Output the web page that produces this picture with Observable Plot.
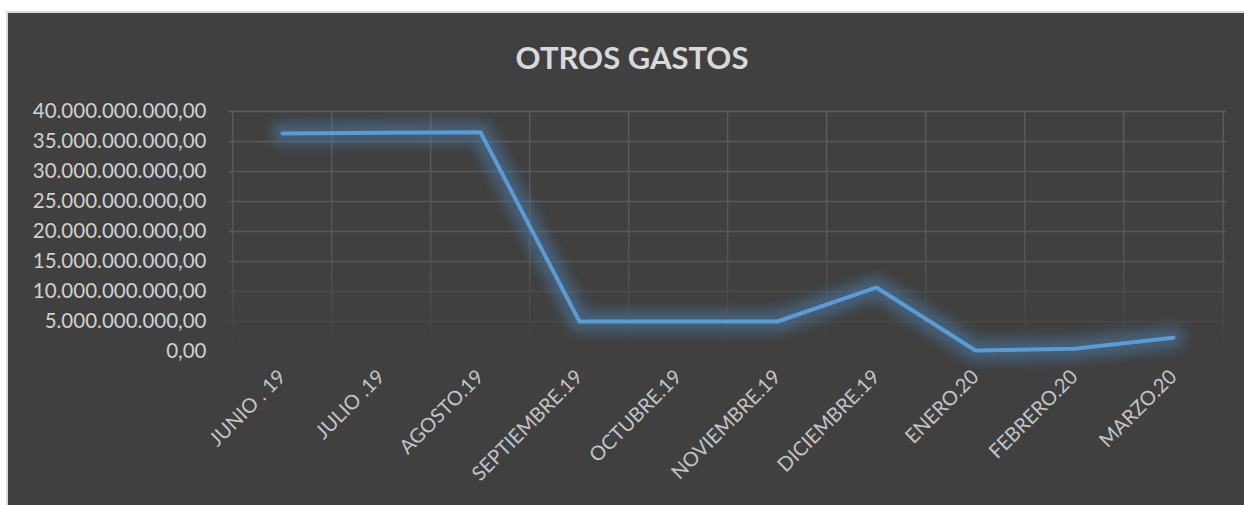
<!DOCTYPE html>
<html><head><meta charset="utf-8">
<script src="https://cdn.jsdelivr.net/npm/d3@7"></script>
<script src="https://cdn.jsdelivr.net/npm/@observablehq/plot@0.6"></script>
<style>
html,body{margin:0;padding:0}
body{background:#fff;width:1244px;height:505px;overflow:hidden;position:relative;font-family:Lato,sans-serif}
#box{position:absolute;left:6px;top:11px;width:1250px;height:510px;background:#404040;border-left:2px solid #d9d9d9;border-top:2px solid #d9d9d9}
#title{position:absolute;left:20px;width:1224px;top:39px;text-align:center;font-family:Lato,sans-serif;font-weight:bold;font-size:31px;line-height:36px;color:#d9d9d9}
#chart{position:absolute;left:0;top:90px}
</style></head>
<body>
<div id="box"></div>
<div id="title">OTROS GASTOS</div>
<div id="chart"></div>
<script>
const months = ["JUNIO . 19","JULIO .19","AGOSTO.19","SEPTIEMBRE.19","OCTUBRE.19","NOVIEMBRE.19","DICIEMBRE.19","ENERO.20","FEBRERO.20","MARZO.20"];
const values = [36.33e9, 36.45e9, 36.55e9, 5.0e9, 5.0e9, 5.0e9, 10.67e9, 0.17e9, 0.45e9, 2.3e9];
const yTicks = [0, 5e9, 10e9, 15e9, 20e9, 25e9, 30e9, 35e9, 40e9];

const data = months.map((m, i) => ({mes: m, valor: values[i]}));
const locale = d3.formatLocale({decimal: ",", thousands: ".", grouping: [3], currency: ["", ""]});
const fmt = locale.format(",.2f");

const W = 1244, H = 415, ML = 229, MR = 18, MT = 21, MB = 154;
const step = (W - ML - MR) / months.length;

const plot = Plot.plot({
  width: W, height: H,
  marginLeft: ML, marginRight: MR, marginTop: MT, marginBottom: MB,
  style: {background: "transparent", fontFamily: "Lato, sans-serif", color: "#cfcfcf", overflow: "visible"},
  x: {type: "point", domain: months, padding: 0.5, axis: null, label: null},
  y: {domain: [0, 40e9], axis: null, label: null},
  marks: [
    Plot.ruleY(yTicks, {stroke: "url(#gf)", strokeWidth: 1.4}),
    Plot.ruleX(months, {y1: 0, y2: 40e9, dx: -step / 2, stroke: "url(#gf)", strokeWidth: 1.4}),
    Plot.ruleX([months[months.length - 1]], {y1: 0, y2: 40e9, dx: step / 2, stroke: "url(#gf)", strokeWidth: 1.4}),
    Plot.axisY(yTicks, {tickSize: 0, tickPadding: 23, tickFormat: fmt, fontSize: 20.5, fill: "#d0d0d0", label: null}),
    Plot.axisX({tickSize: 0, tickRotate: -45, tickPadding: 22, fontSize: 20, fill: "#c4c4c4", label: null}),
    Plot.line(data, {x: "mes", y: "valor", stroke: "#4a7fb0", strokeWidth: 22, strokeOpacity: 0.5, strokeLinejoin: "round", strokeLinecap: "round"}),
    Plot.line(data, {x: "mes", y: "valor", stroke: "#5b9bd5", strokeWidth: 4, strokeLinejoin: "round", strokeLinecap: "round"})
  ]
});

const svg = d3.select(plot);
const defs = svg.insert("defs", ":first-child");
const g = defs.append("linearGradient").attr("id", "gf").attr("gradientUnits", "userSpaceOnUse")
  .attr("x1", 0).attr("y1", MT).attr("x2", 0).attr("y2", H - MB);
g.append("stop").attr("offset", 0).attr("stop-color", "#5c5c5c");
g.append("stop").attr("offset", 0.55).attr("stop-color", "#585858");
g.append("stop").attr("offset", 1).attr("stop-color", "#404040");
const f = defs.append("filter").attr("id", "glow").attr("x", "-10%").attr("y", "-40%").attr("width", "120%").attr("height", "180%");
f.append("feGaussianBlur").attr("stdDeviation", 6);
const lines = plot.querySelectorAll('g[aria-label="line"]');
if (lines.length) lines[0].setAttribute("filter", "url(#glow)");

document.getElementById("chart").appendChild(plot);
</script>
</body></html>
